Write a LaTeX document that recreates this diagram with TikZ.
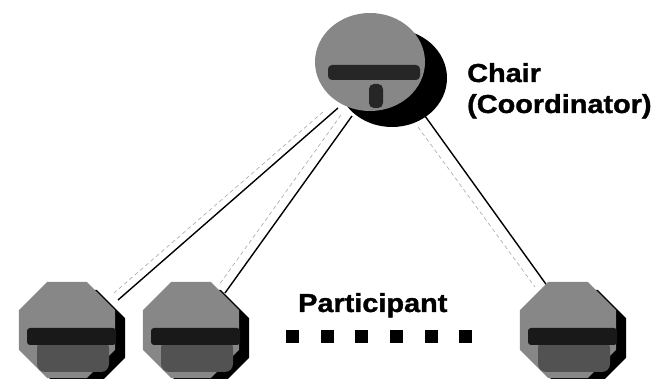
\documentclass[tikz,border=0pt]{standalone}
\usepackage{fontspec}
\setmainfont{Liberation Sans}[BoldFeatures={FakeBold=1.2}]
\usetikzlibrary{shapes.geometric}
\begin{document}
\begin{tikzpicture}[x=1pt,y=-1pt,
  octo/.style={regular polygon, regular polygon sides=8, minimum size=104pt, inner sep=0pt, draw=none},
  disc/.style={ellipse, minimum width=110pt, minimum height=98pt, inner sep=0pt, draw=none},
  link/.style={line width=1.4pt, black},
  ghost/.style={line width=0.6pt, black!35, dash pattern=on 4pt off 3pt},
  lbl/.style={font=\fontsize{26}{31}\selectfont\bfseries, inner sep=0pt, anchor=base west},
  sq/.style={rectangle, fill=black, minimum size=13pt, inner sep=0pt, draw=none},
  stip/.style={fill=black!47},
  blot/.style={fill=black, rounded corners=3pt}]
\useasboundingbox (0,0) rectangle (667,379);

% connector end points
\coordinate (a1) at (338,108); \coordinate (b1) at (118,300);
\coordinate (a2) at (352,116); \coordinate (b2) at (225,293);
\coordinate (a3) at (425,116); \coordinate (b3) at (548,287);
\coordinate (g1) at (323,112); \coordinate (h1) at (114,293);
\coordinate (g2) at (341,115); \coordinate (h2) at (219,285);
\coordinate (g3) at (418,127); \coordinate (h3) at (535,287);

\draw[ghost] (g1) -- (h1);
\draw[ghost] (g2) -- (h2);
\draw[ghost] (g3) -- (h3);
\draw[link] (a1) -- (b1);
\draw[link] (a2) -- (b2);
\draw[link] (a3) -- (b3);

% chair
\node[disc, fill=black] (chairshadow) at (392,78) {};
\node[disc, stip] (chair) at (370,62) {};
\fill[black!85, rounded corners=4pt] (328,65) rectangle (420,80);
\fill[black!85, rounded corners=5pt] (369,84) rectangle (383,108);

% participants
\foreach \n/\cx in {p1/67, p2/191, p3/568}{
  \node[octo, fill=black] (\n s) at (\cx+10,338) {};
  \node[octo, stip] (\n) at (\cx,330) {};
  \fill[black!68, rounded corners=8pt] (\cx-30,340) rectangle (\cx+42,372);
  \fill[black!90, rounded corners=3pt] (\cx-40,328) rectangle (\cx+49,345);
}

% labels
\node[lbl] (chairlbl) at (467,82) {\scalebox{1.11}[1]{Chair}};
\node[lbl] (coordlbl) at (467,113) {\scalebox{1.11}[1]{(Coordinator)}};
\node[lbl] (partlbl) at (298,312) {\scalebox{1.11}[1]{Participant}};

\foreach \i/\x in {1/292,2/327,3/361,4/396,5/431,6/465}{
  \node[sq] (d\i) at (\x,337) {};
}
\end{tikzpicture}
\end{document}
